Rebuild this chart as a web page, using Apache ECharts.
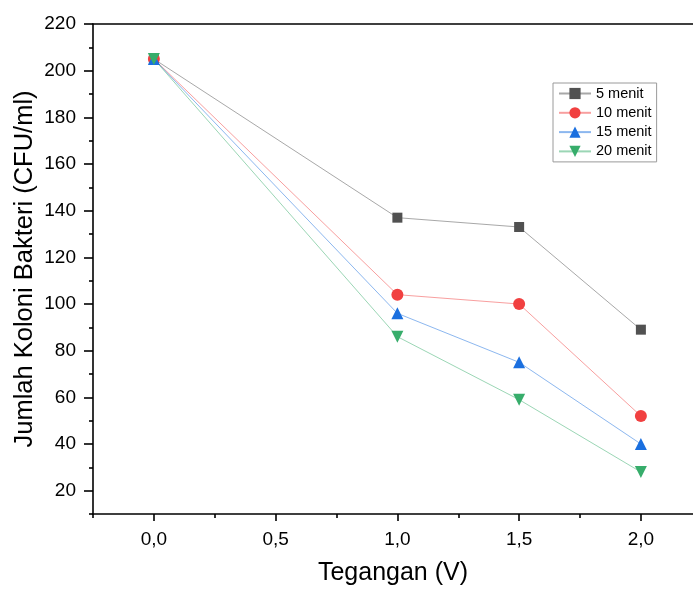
<!DOCTYPE html>
<html>
<head>
<meta charset="utf-8">
<script src="https://cdn.jsdelivr.net/npm/echarts@6/dist/echarts.min.js"></script>
<style>html,body{margin:0;padding:0;background:#fff;}#c{width:693px;height:592px;}</style>
</head>
<body>
<div id="c"></div>
<script>
var voltages = [0, 1, 1.5, 2];
var seriesNames = ['5 menit', '10 menit', '15 menit', '20 menit'];
var s5 = [205, 137, 133, 89];
var s10 = [205, 104, 100, 52];
var s15 = [205, 96, 75, 40];
var s20 = [205, 86, 59, 28];
var xMajorTicks = [0, 0.5, 1, 1.5, 2];
var xMinorTicks = [-0.25, 0.25, 0.75, 1.25, 1.75];
var yMajorTicks = [20, 40, 60, 80, 100, 120, 140, 160, 180, 200, 220];
var yMinorTicks = [10, 30, 50, 70, 90, 110, 130, 150, 170, 190, 210];

var FONT = 'Liberation Sans, Arial, sans-serif';
var xMin = -0.25, xMax = 2.214, yMin = 10, yMax = 220;

function pairs(vals) { return voltages.map(function (v, i) { return [v, vals[i]]; }); }

var colors = ['#515151', '#F14040', '#1A6FDF', '#37AD6B'];
var symbols = ['rect', 'circle', 'triangle', 'triangle'];
var rot = [0, 0, 0, 180];
var sizes = [10, 12, 12, 12];
var allData = [s5, s10, s15, s20];

var series = allData.map(function (d, i) {
  return {
    name: seriesNames[i],
    type: 'line',
    data: pairs(d),
    symbol: symbols[i],
    symbolSize: sizes[i],
    symbolRotate: rot[i],
    showAllSymbol: true,
    itemStyle: { color: colors[i], opacity: 1 },
    lineStyle: { color: colors[i], width: 1, opacity: 0.5 },
    emphasis: { disabled: true },
    animation: false
  };
});

var axisBase = { type: 'value', min: xMin, max: xMax, splitLine: { show: false } };
var lineSt = { color: '#000', width: 1.6 };

var option = {
  animation: false,
  grid: { left: 93, right: 0, top: 24, bottom: 78, containLabel: false },
  legend: {
    orient: 'vertical',
    left: 553, top: 83,
    padding: [3, 5, 3, 5],
    itemWidth: 32, itemHeight: 14, itemGap: 4.3,
    borderColor: '#9a9a9a', borderWidth: 1,
    textStyle: { fontFamily: FONT, fontSize: 14.5, color: '#000' },
    data: seriesNames
  },
  xAxis: [
    Object.assign({}, axisBase, {
      position: 'bottom',
      axisLine: { show: true, onZero: false, lineStyle: lineSt },
      axisTick: { show: true, inside: false, length: 4, customValues: xMinorTicks, lineStyle: lineSt },
      axisLabel: { show: false },
      name: 'Tegangan (V)', nameLocation: 'middle', nameGap: 47,
      nameTextStyle: { fontFamily: FONT, fontSize: 25, color: '#000' }
    }),
    Object.assign({}, axisBase, {
      position: 'bottom',
      axisLine: { show: false, onZero: false },
      axisTick: { show: true, inside: false, length: 7, customValues: xMajorTicks, lineStyle: lineSt },
      axisLabel: {
        show: true, customValues: xMajorTicks, margin: 16,
        fontFamily: FONT, fontSize: 19, color: '#000',
        formatter: function (v) { return v.toFixed(1).replace('.', ','); }
      }
    }),
    Object.assign({}, axisBase, {
      position: 'top',
      axisLine: { show: true, onZero: false, lineStyle: lineSt },
      axisTick: { show: false },
      axisLabel: { show: false }
    })
  ],
  yAxis: [
    {
      type: 'value', min: yMin, max: yMax, position: 'left',
      splitLine: { show: false },
      axisLine: { show: true, onZero: false, lineStyle: lineSt },
      axisTick: { show: true, inside: false, length: 4, customValues: yMinorTicks, lineStyle: lineSt },
      axisLabel: { show: false },
      name: 'Jumlah Koloni Bakteri (CFU/ml)', nameLocation: 'middle', nameGap: 55,
      nameTextStyle: { fontFamily: FONT, fontSize: 25.5, color: '#000' }
    },
    {
      type: 'value', min: yMin, max: yMax, position: 'left',
      splitLine: { show: false },
      axisLine: { show: false, onZero: false },
      axisTick: { show: true, inside: false, length: 9, customValues: yMajorTicks, lineStyle: lineSt },
      axisLabel: {
        show: true, customValues: yMajorTicks, margin: 17,
        fontFamily: FONT, fontSize: 19, color: '#000'
      }
    }
  ],
  series: series
};

var chart = echarts.init(document.getElementById('c'), null, { renderer: 'canvas' });
chart.setOption(option);
</script>
</body>
</html>
